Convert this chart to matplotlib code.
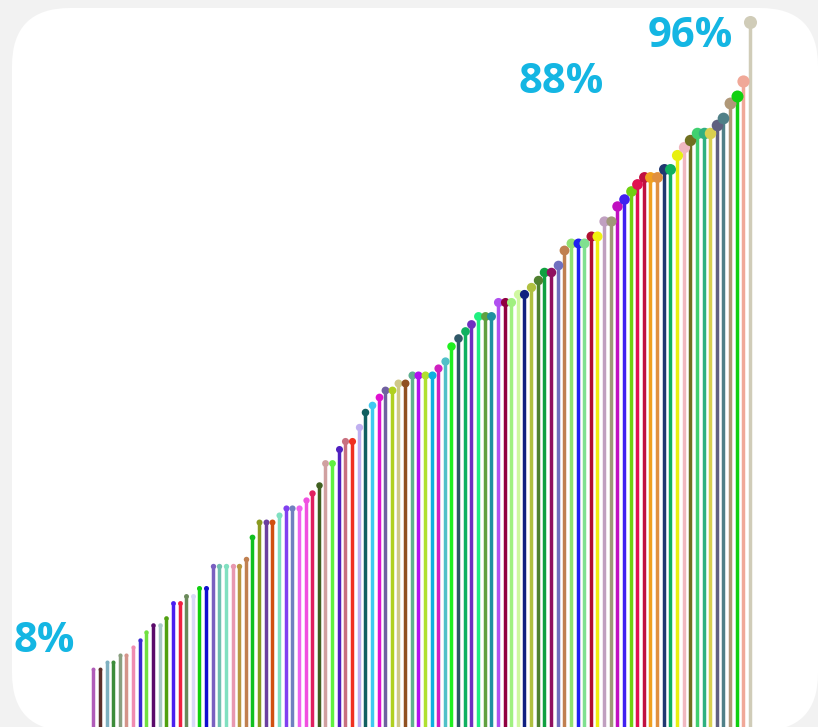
import matplotlib
matplotlib.use("Agg")
import matplotlib.pyplot as plt
from matplotlib.patches import FancyBboxPatch
import numpy as np

# Share of respondents per item, sorted ascending (percent)
values = [
    8, 8, 9, 9, 10, 10, 11, 12, 13, 14, 14, 15, 17, 17, 18, 18, 19, 19, 22, 22,
    22, 22, 22, 23, 26, 28, 28, 28, 29, 30, 30, 30, 31, 32, 33, 36, 36, 38, 39, 39,
    41, 43, 44, 45, 46, 46, 47, 47, 48, 48, 48, 48, 49, 50, 52, 53, 54, 55, 56, 56,
    56, 58, 58, 58, 59, 59, 60, 61, 62, 62, 63, 65, 66, 66, 66, 67, 67, 69, 69, 71,
    72, 73, 74, 75, 75, 75, 76, 76, 78, 79, 80, 81, 81, 81, 82, 83, 85, 86, 88, 96,
]

colors = [
    "#b05cb8", "#5c2e2a", "#7fb0c0", "#3d8c3a", "#8aa080", "#d4948a", "#f08cb0", "#3a2ad0", "#70e040", "#5a0a6a",
    "#a8c8c8", "#50a010", "#4a20f0", "#f02040", "#6a8a5a", "#d8d8f8", "#10d010", "#1010d0", "#7a60c0", "#70c0b0",
    "#80e0c0", "#e898b0", "#b89840", "#c08050", "#10c020", "#8a9a20", "#6a40a0", "#d05010", "#80e0c0", "#8040f0",
    "#7080c0", "#f060f0", "#f050e0", "#e02060", "#406020", "#d0a0a0", "#60f040", "#5020c0", "#c87080", "#f03020",
    "#c0b0f0", "#106060", "#40c8f0", "#e010d0", "#7060a0", "#b0d020", "#d0c888", "#905020", "#60b090", "#b010f0",
    "#b0e030", "#10b0e0", "#d020c0", "#50c0c8", "#20f020", "#305868", "#10b060", "#7030c0", "#20f080", "#60a040",
    "#2090a0", "#b050f0", "#900040", "#a0f080", "#d0f8a0", "#102080", "#b0c040", "#508030", "#10a040", "#901060",
    "#7070c0", "#c08050", "#90e070", "#2020f0", "#80e090", "#b01030", "#f0f010", "#c0a0c0", "#a09878", "#c010c0",
    "#4020f0", "#70d010", "#e01050", "#c01040", "#f0a020", "#e09040", "#203870", "#10b060", "#e8f010", "#f0b8c0",
    "#707020", "#40d070", "#30b080", "#d8d050", "#606080", "#508088", "#b09878", "#10d010", "#f0a898", "#d0ccb8",
]

# Items whose share is called out in text
highlight = [0, 98, 99]

W, H, DPI = 818, 727, 100
fig = plt.figure(figsize=(W / DPI, H / DPI), dpi=DPI)
fig.patch.set_facecolor("#f2f2f2")

# Rounded white card behind the chart (figure pixel coordinates)
card = FancyBboxPatch((12, -4), 818 - 12, 727 - 8 + 4,
                      boxstyle="round,pad=0,rounding_size=58",
                      transform=None, facecolor="white", edgecolor="none", zorder=-5)
fig.patches.append(card)

ax = fig.add_axes([0, 0, 1, 1], zorder=1)
ax.patch.set_visible(False)
ax.axis("off")

x = np.arange(len(values))
px_per_item = 6.633
px_per_pct = 7.35
x0_px, base_px = 93.3, 728
ax.set_xlim(-x0_px / px_per_item, (W - x0_px) / px_per_item)
ax.set_ylim((base_px - H) / px_per_pct, base_px / px_per_pct)

for xi, v, c in zip(x, values, colors):
    ax.vlines(xi, 0, v, color=c, linewidth=2.5, zorder=2)
    ms = 2.2 + v * 0.075
    ax.plot(xi, v, "o", color=c, markersize=ms, markeredgewidth=0, zorder=3)

label_style = dict(color="#14b6e3", fontsize=30, fontweight="bold",
                   family=["Open Sans", "DejaVu Sans"], ha="center", va="center", zorder=4)
offsets = {0: (-7.4, 3.8), 98: (-27.5, -0.2), 99: (-9.0, -1.9)}
for i in highlight:
    dx, dy = offsets[i]
    ax.text(x[i] + dx, values[i] + dy, f"{values[i]}%", **label_style)

fig.savefig("out.png", dpi=DPI, facecolor=fig.get_facecolor())
